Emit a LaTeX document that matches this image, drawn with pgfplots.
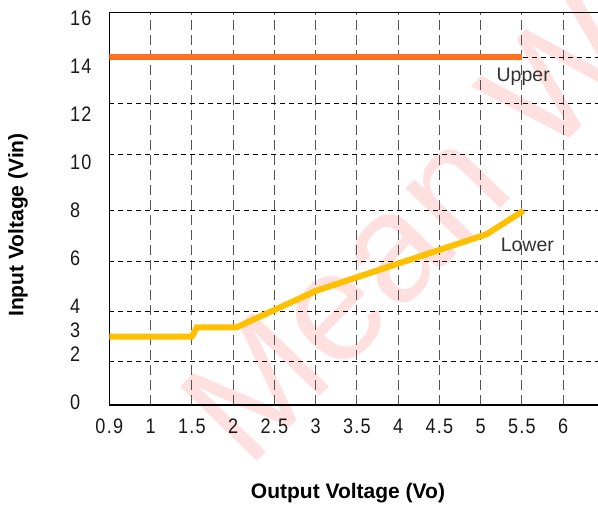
\documentclass[border=0pt]{standalone}
\usepackage{fontspec}
\setmainfont{Liberation Sans}
\newfontfamily\tickfont[FakeStretch=0.86,LetterSpace=6]{Liberation Sans}
\usepackage{pgfplots}
\pgfplotsset{compat=1.18}
\definecolor{upperc}{HTML}{FF7020}
\definecolor{lowerc}{HTML}{FFC000}
\definecolor{txtc}{HTML}{333333}
\definecolor{vgrid}{HTML}{555555}
\definecolor{wmark}{RGB}{255,224,224}
% x positions: the Vo axis is drawn as evenly spaced categories
% 0.9, 1, 1.5, 2, ..., 6 at positions 0, 1, 2, ..., 11
\begin{document}
\begin{tikzpicture}
\path[use as bounding box] (0,0) rectangle (598pt,509pt);
\begin{scope}
\clip (0,0) rectangle (598pt,509pt);
\node[rotate=46, anchor=base west, text=wmark, font=\fontsize{155}{155}\selectfont, inner sep=0pt] at (248pt,38pt) {Mean Well};
\end{scope}
\begin{axis}[
  at={(109.3pt,104pt)}, anchor=south west,
  scale only axis, width=492pt, height=392.3pt,
  xmin=0, xmax=11.922, ymin=-0.117, ymax=16.24,
  axis line style={line width=1.2pt, black},
  xtick={0,1,...,11},
  xticklabels={0.9,1,1.5,2,2.5,3,3.5,4,4.5,5,5.5,6},
  ytick={1.71,3.79,5.86,8.00,10.34,12.46,14.37},
  yticklabels={},
  extra y ticks={0,2,3,4,6,8,10,12,14,16},
  extra y tick labels={0,2,3,4,6,8,10,12,14,16},
  extra y tick style={ymajorgrids=false, xmajorgrids=false,
    yticklabel style={font=\tickfont\fontsize{21}{22}\selectfont, text=black!90, anchor=west, inner sep=0pt, xshift=-39.3pt}},
  xmajorgrids=true, ymajorgrids=true,
  x grid style={vgrid, line width=1pt, dash pattern=on 10pt off 5pt},
  y grid style={black, line width=0.9pt, dash pattern=on 5pt off 4pt},
  major tick length=0pt,
  tick style={draw=none},
  xticklabel style={font=\tickfont\fontsize{21}{22}\selectfont, text=black!90, anchor=center, inner sep=0pt, yshift=-21pt},
  xlabel={Output Voltage (Vo)},
  ylabel={Input Voltage (Vin)},
  xlabel style={font=\bfseries\fontsize{21}{24}\selectfont, at={(axis description cs:0.4851,-0.2243)}, anchor=center},
  ylabel style={font=\bfseries\fontsize{21}{24}\selectfont, at={(axis description cs:-0.1856,0.4588)}, anchor=center},
  clip=true,
]
\addplot[upperc, line width=6pt] coordinates {(0,14.38) (10,14.38)};
\addplot[lowerc, line width=6pt] coordinates {
  (0,2.73) (2,2.73) (2.12,3.12) (3.08,3.12) (5.02,4.65) (9.14,7.00) (10.04,7.99)};
\node[anchor=base, text=txtc, font=\fontsize{19.5}{20}\selectfont, inner sep=0pt] at (axis cs:10.03,13.37) {Upper};
\node[anchor=base, text=txtc, font=\fontsize{19.5}{20}\selectfont, inner sep=0pt] at (axis cs:10.13,6.28) {Lower};
\end{axis}
\end{tikzpicture}
\end{document}
